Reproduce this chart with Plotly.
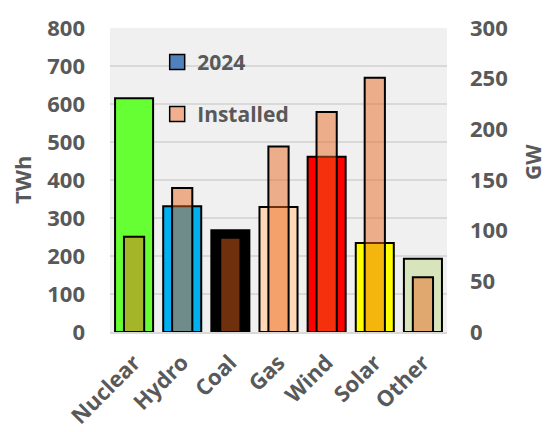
import plotly.graph_objects as go

# Electricity generation by source (TWh) and installed capacity (GW)
categories = ["Nuclear", "Hydro", "Coal", "Gas", "Wind", "Solar", "Other"]
generation_twh = [615, 331, 268, 329, 461, 234, 193]
installed_gw = [94, 142, 93, 183, 217, 251, 54]
source_colors = ["#66FF33", "#00B0F0", "#000000", "#FFD9B5", "#FF0000", "#FFFF00", "#D8E4BC"]
twh_ticks = [0, 100, 200, 300, 400, 500, 600, 700, 800]
gw_ticks = [0, 50, 100, 150, 200, 250, 300]

FONT = "Open Sans"
TEXT = "#595959"
INSTALLED_FILL = "rgba(233,100,28,0.48)"

fig = go.Figure()

fig.add_trace(go.Bar(
    x=categories, y=generation_twh, name="2024",
    marker=dict(color=source_colors, line=dict(color="black", width=2)),
    width=0.79, showlegend=False, yaxis="y",
))
fig.add_trace(go.Bar(
    x=categories, y=installed_gw, name="Installed",
    marker=dict(color=INSTALLED_FILL, line=dict(color="black", width=2)),
    width=0.42, showlegend=False, yaxis="y2",
))

# legend keys
fig.add_trace(go.Scatter(
    x=[None], y=[None], mode="markers", name="2024", legend="legend",
    marker=dict(symbol="square", size=15, color="#4F81BD", line=dict(color="black", width=1.5)),
))
fig.add_trace(go.Scatter(
    x=[None], y=[None], mode="markers", name="Installed", legend="legend2",
    marker=dict(symbol="square", size=15, color="#F0B090", line=dict(color="black", width=1.5)),
))

legend_style = dict(
    bgcolor="rgba(0,0,0,0)", borderwidth=0, xanchor="left", yanchor="middle",
    font=dict(family=FONT, size=21, color=TEXT, weight="bold"),
    itemwidth=30,
)

fig.update_layout(
    width=548, height=432,
    margin=dict(l=110, r=101, t=19, b=100),
    paper_bgcolor="white",
    plot_bgcolor="#F0F0F0",
    barmode="overlay",
    font=dict(family=FONT, color=TEXT, weight="bold"),
    legend=dict(x=0.14, y=0.887, **legend_style),
    legend2=dict(x=0.14, y=0.716, **legend_style),
    xaxis=dict(
        type="category", tickangle=-45, automargin=False,
        tickfont=dict(family=FONT, size=22, color=TEXT, weight="bold"),
        showline=True, linecolor="#D9D9D9", linewidth=2,
        ticks="", showgrid=False, ticklabelstandoff=7,
    ),
    yaxis=dict(
        range=[0, 800], tickvals=twh_ticks,
        tickfont=dict(family=FONT, size=22, color=TEXT, weight="bold"),
        gridcolor="#D9D9D9", gridwidth=1.5, zeroline=False,
        ticks="", ticklabelstandoff=24,
    ),
    yaxis2=dict(
        range=[0, 300], tickvals=gw_ticks, overlaying="y", side="right",
        tickfont=dict(family=FONT, size=22, color=TEXT, weight="bold"),
        showgrid=False, zeroline=False, ticks="", ticklabelstandoff=22,
    ),
    annotations=[
        dict(text="TWh", textangle=-90, xref="paper", yref="paper",
             x=(22 - 110) / 337, y=0.50, xanchor="center", yanchor="middle",
             showarrow=False, font=dict(family=FONT, size=22, color=TEXT, weight="bold")),
        dict(text="GW", textangle=-90, xref="paper", yref="paper",
             x=(533 - 110) / 337, y=(332 - 157) / 313, xanchor="center", yanchor="middle",
             showarrow=False, font=dict(family=FONT, size=21, color=TEXT, weight="bold")),
    ],
)

fig.write_html("out.html")
